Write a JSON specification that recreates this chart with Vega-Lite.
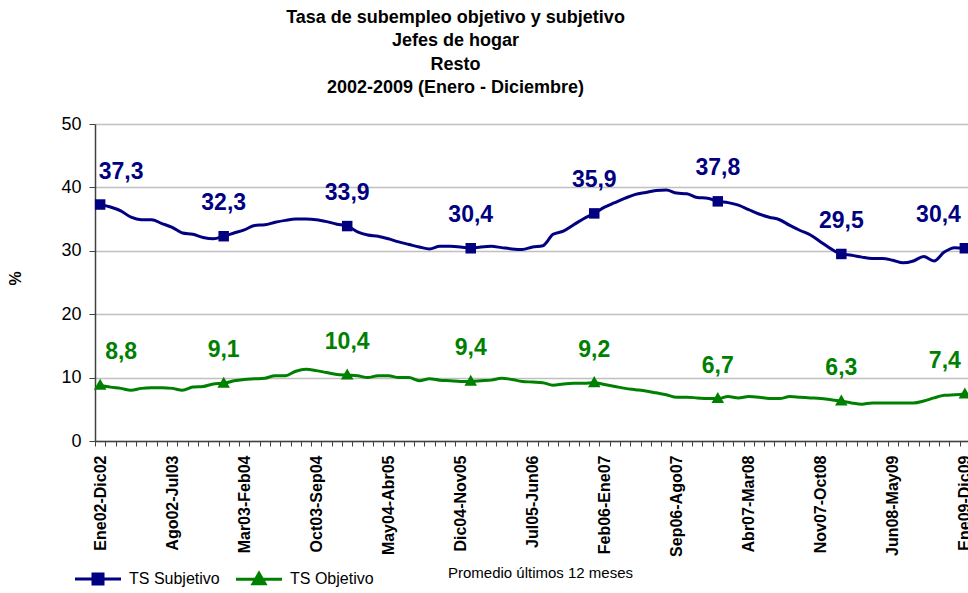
{
  "$schema": "https://vega.github.io/schema/vega-lite/v6.json",
  "width": 875,
  "height": 317,
  "autosize": {"type": "none"},
  "padding": {"left": 95, "top": 124, "right": 0, "bottom": 152},
  "background": "white",
  "config": {
    "view": {"stroke": null},
    "font": "Liberation Sans",
    "locale": {"number": {"decimal": ",", "thousands": ".", "grouping": [3], "currency": ["", " €"]}}
  },
  "title": {
    "text": ["Tasa de subempleo objetivo y subjetivo", "Jefes de hogar", "Resto", "2002-2009 (Enero - Diciembre)"],
    "font": "Liberation Sans",
    "fontSize": 18,
    "fontWeight": "bold",
    "lineHeight": 23.5,
    "color": "black",
    "anchor": "middle",
    "dx": -77,
    "offset": 18
  },
  "data": {
    "values": [
      {"periodo": "Ene02-Dic02", "TS Subjetivo": 37.3, "TS Objetivo": 8.8},
      {"periodo": "Feb02-Ene03", "TS Subjetivo": 36.9, "TS Objetivo": 8.5},
      {"periodo": "Mar02-Feb03", "TS Subjetivo": 36.3, "TS Objetivo": 8.3},
      {"periodo": "Abr02-Mar03", "TS Subjetivo": 35.3, "TS Objetivo": 8.0},
      {"periodo": "May02-Abr03", "TS Subjetivo": 34.9, "TS Objetivo": 8.3},
      {"periodo": "Jun02-May03", "TS Subjetivo": 34.9, "TS Objetivo": 8.4},
      {"periodo": "Jul02-Jun03", "TS Subjetivo": 34.3, "TS Objetivo": 8.4},
      {"periodo": "Ago02-Jul03", "TS Subjetivo": 33.7, "TS Objetivo": 8.3},
      {"periodo": "Sep02-Ago03", "TS Subjetivo": 32.8, "TS Objetivo": 8.0},
      {"periodo": "Oct02-Sep03", "TS Subjetivo": 32.6, "TS Objetivo": 8.5},
      {"periodo": "Nov02-Oct03", "TS Subjetivo": 32.1, "TS Objetivo": 8.6},
      {"periodo": "Dic02-Nov03", "TS Subjetivo": 31.9, "TS Objetivo": 9.0},
      {"periodo": "Ene03-Dic03", "TS Subjetivo": 32.3, "TS Objetivo": 9.1},
      {"periodo": "Feb03-Ene04", "TS Subjetivo": 32.8, "TS Objetivo": 9.5},
      {"periodo": "Mar03-Feb04", "TS Subjetivo": 33.3, "TS Objetivo": 9.7},
      {"periodo": "Abr03-Mar04", "TS Subjetivo": 34.0, "TS Objetivo": 9.8},
      {"periodo": "May03-Abr04", "TS Subjetivo": 34.1, "TS Objetivo": 9.9},
      {"periodo": "Jun03-May04", "TS Subjetivo": 34.5, "TS Objetivo": 10.3},
      {"periodo": "Jul03-Jun04", "TS Subjetivo": 34.8, "TS Objetivo": 10.3},
      {"periodo": "Ago03-Jul04", "TS Subjetivo": 35.0, "TS Objetivo": 11.0},
      {"periodo": "Sep03-Ago04", "TS Subjetivo": 35.0, "TS Objetivo": 11.3},
      {"periodo": "Oct03-Sep04", "TS Subjetivo": 34.9, "TS Objetivo": 11.1},
      {"periodo": "Nov03-Oct04", "TS Subjetivo": 34.6, "TS Objetivo": 10.8},
      {"periodo": "Dic03-Nov04", "TS Subjetivo": 34.2, "TS Objetivo": 10.5},
      {"periodo": "Ene04-Dic04", "TS Subjetivo": 33.9, "TS Objetivo": 10.4},
      {"periodo": "Feb04-Ene05", "TS Subjetivo": 33.0, "TS Objetivo": 10.3},
      {"periodo": "Mar04-Feb05", "TS Subjetivo": 32.5, "TS Objetivo": 10.0},
      {"periodo": "Abr04-Mar05", "TS Subjetivo": 32.3, "TS Objetivo": 10.3},
      {"periodo": "May04-Abr05", "TS Subjetivo": 31.9, "TS Objetivo": 10.3},
      {"periodo": "Jun04-May05", "TS Subjetivo": 31.4, "TS Objetivo": 10.0},
      {"periodo": "Jul04-Jun05", "TS Subjetivo": 31.0, "TS Objetivo": 10.0},
      {"periodo": "Ago04-Jul05", "TS Subjetivo": 30.6, "TS Objetivo": 9.5},
      {"periodo": "Sep04-Ago05", "TS Subjetivo": 30.3, "TS Objetivo": 9.8},
      {"periodo": "Oct04-Sep05", "TS Subjetivo": 30.7, "TS Objetivo": 9.6},
      {"periodo": "Nov04-Oct05", "TS Subjetivo": 30.7, "TS Objetivo": 9.5},
      {"periodo": "Dic04-Nov05", "TS Subjetivo": 30.6, "TS Objetivo": 9.4},
      {"periodo": "Ene05-Dic05", "TS Subjetivo": 30.4, "TS Objetivo": 9.4},
      {"periodo": "Feb05-Ene06", "TS Subjetivo": 30.6, "TS Objetivo": 9.5},
      {"periodo": "Mar05-Feb06", "TS Subjetivo": 30.7, "TS Objetivo": 9.6},
      {"periodo": "Abr05-Mar06", "TS Subjetivo": 30.5, "TS Objetivo": 9.9},
      {"periodo": "May05-Abr06", "TS Subjetivo": 30.3, "TS Objetivo": 9.7},
      {"periodo": "Jun05-May06", "TS Subjetivo": 30.2, "TS Objetivo": 9.4},
      {"periodo": "Jul05-Jun06", "TS Subjetivo": 30.6, "TS Objetivo": 9.3},
      {"periodo": "Ago05-Jul06", "TS Subjetivo": 30.8, "TS Objetivo": 9.2},
      {"periodo": "Sep05-Ago06", "TS Subjetivo": 32.6, "TS Objetivo": 8.8},
      {"periodo": "Oct05-Sep06", "TS Subjetivo": 33.1, "TS Objetivo": 9.0},
      {"periodo": "Nov05-Oct06", "TS Subjetivo": 34.1, "TS Objetivo": 9.1},
      {"periodo": "Dic05-Nov06", "TS Subjetivo": 35.1, "TS Objetivo": 9.1},
      {"periodo": "Ene06-Dic06", "TS Subjetivo": 35.9, "TS Objetivo": 9.2},
      {"periodo": "Feb06-Ene07", "TS Subjetivo": 36.9, "TS Objetivo": 8.9},
      {"periodo": "Mar06-Feb07", "TS Subjetivo": 37.6, "TS Objetivo": 8.6},
      {"periodo": "Abr06-Mar07", "TS Subjetivo": 38.3, "TS Objetivo": 8.3},
      {"periodo": "May06-Abr07", "TS Subjetivo": 38.9, "TS Objetivo": 8.1},
      {"periodo": "Jun06-May07", "TS Subjetivo": 39.2, "TS Objetivo": 7.9},
      {"periodo": "Jul06-Jun07", "TS Subjetivo": 39.5, "TS Objetivo": 7.6},
      {"periodo": "Ago06-Jul07", "TS Subjetivo": 39.6, "TS Objetivo": 7.3},
      {"periodo": "Sep06-Ago07", "TS Subjetivo": 39.1, "TS Objetivo": 6.9},
      {"periodo": "Oct06-Sep07", "TS Subjetivo": 39.0, "TS Objetivo": 6.9},
      {"periodo": "Nov06-Oct07", "TS Subjetivo": 38.4, "TS Objetivo": 6.8},
      {"periodo": "Dic06-Nov07", "TS Subjetivo": 38.3, "TS Objetivo": 6.7},
      {"periodo": "Ene07-Dic07", "TS Subjetivo": 37.8, "TS Objetivo": 6.7},
      {"periodo": "Feb07-Ene08", "TS Subjetivo": 37.6, "TS Objetivo": 7.0},
      {"periodo": "Mar07-Feb08", "TS Subjetivo": 37.2, "TS Objetivo": 6.8},
      {"periodo": "Abr07-Mar08", "TS Subjetivo": 36.5, "TS Objetivo": 7.0},
      {"periodo": "May07-Abr08", "TS Subjetivo": 35.8, "TS Objetivo": 6.9},
      {"periodo": "Jun07-May08", "TS Subjetivo": 35.3, "TS Objetivo": 6.7},
      {"periodo": "Jul07-Jun08", "TS Subjetivo": 34.9, "TS Objetivo": 6.7},
      {"periodo": "Ago07-Jul08", "TS Subjetivo": 34.0, "TS Objetivo": 7.0},
      {"periodo": "Sep07-Ago08", "TS Subjetivo": 33.2, "TS Objetivo": 6.9},
      {"periodo": "Oct07-Sep08", "TS Subjetivo": 32.5, "TS Objetivo": 6.8},
      {"periodo": "Nov07-Oct08", "TS Subjetivo": 31.4, "TS Objetivo": 6.7},
      {"periodo": "Dic07-Nov08", "TS Subjetivo": 30.3, "TS Objetivo": 6.5},
      {"periodo": "Ene08-Dic08", "TS Subjetivo": 29.5, "TS Objetivo": 6.3},
      {"periodo": "Feb08-Ene09", "TS Subjetivo": 29.3, "TS Objetivo": 6.0},
      {"periodo": "Mar08-Feb09", "TS Subjetivo": 29.0, "TS Objetivo": 5.8},
      {"periodo": "Abr08-Mar09", "TS Subjetivo": 28.8, "TS Objetivo": 6.0},
      {"periodo": "May08-Abr09", "TS Subjetivo": 28.8, "TS Objetivo": 6.0},
      {"periodo": "Jun08-May09", "TS Subjetivo": 28.5, "TS Objetivo": 6.0},
      {"periodo": "Jul08-Jun09", "TS Subjetivo": 28.1, "TS Objetivo": 6.0},
      {"periodo": "Ago08-Jul09", "TS Subjetivo": 28.4, "TS Objetivo": 6.0},
      {"periodo": "Sep08-Ago09", "TS Subjetivo": 29.1, "TS Objetivo": 6.3},
      {"periodo": "Oct08-Sep09", "TS Subjetivo": 28.4, "TS Objetivo": 6.8},
      {"periodo": "Nov08-Oct09", "TS Subjetivo": 29.8, "TS Objetivo": 7.2},
      {"periodo": "Dic08-Nov09", "TS Subjetivo": 30.5, "TS Objetivo": 7.3},
      {"periodo": "Ene09-Dic09", "TS Subjetivo": 30.4, "TS Objetivo": 7.4}
    ]
  },
  "transform": [{"fold": ["TS Subjetivo", "TS Objetivo"], "as": ["serie", "valor"]}],
  "encoding": {
    "x": {
      "field": "periodo",
      "type": "ordinal",
      "sort": null,
      "bandPosition": 0.5,
      "scale": {"type": "band", "paddingInner": 0, "paddingOuter": 0},
      "axis": {
        "title": "Promedio últimos 12 meses",
        "titleFont": "Liberation Sans",
        "titleFontSize": 15,
        "titleFontWeight": "normal",
        "titleColor": "black",
        "titleX": 445,
        "titleY": 131,
        "titleBaseline": "middle",
        "labelAngle": -90,
        "labelFont": "Liberation Sans",
        "labelFontSize": 16,
        "labelFontWeight": "bold",
        "labelColor": "black",
        "labelOverlap": false,
        "labelPadding": 9,
        "labelExpr": "indexof(['Ene02-Dic02','Ago02-Jul03','Mar03-Feb04','Oct03-Sep04','May04-Abr05','Dic04-Nov05','Jul05-Jun06','Feb06-Ene07','Sep06-Ago07','Abr07-Mar08','Nov07-Oct08','Jun08-May09','Ene09-Dic09'], datum.value) >= 0 ? datum.value : ''",
        "tickBand": "extent",
        "tickSize": 5,
        "tickColor": "#404040",
        "tickWidth": 1,
        "domainColor": "#404040",
        "domainWidth": 1.5,
        "grid": false
      }
    },
    "y": {
      "field": "valor",
      "type": "quantitative",
      "scale": {"domain": [0, 50]},
      "axis": {
        "values": [0, 10, 20, 30, 40, 50],
        "grid": true,
        "gridColor": "#c0c0c0",
        "gridWidth": 1.5,
        "domainColor": "#404040",
        "domainWidth": 1.5,
        "tickColor": "#404040",
        "tickSize": 6,
        "tickWidth": 1,
        "labelFont": "Liberation Sans",
        "labelFontSize": 18,
        "labelColor": "black",
        "labelPadding": 8,
        "title": "%",
        "titleFont": "Liberation Sans",
        "titleFontSize": 16,
        "titleFontWeight": "bold",
        "titleColor": "black",
        "titleX": -72,
        "titleY": 154
      }
    },
    "color": {
      "field": "serie",
      "type": "nominal",
      "scale": {"domain": ["TS Subjetivo", "TS Objetivo"], "range": ["#000080", "#008000"]},
      "legend": {
        "orient": "none",
        "legendX": -23,
        "legendY": 447,
        "direction": "horizontal",
        "title": null,
        "symbolSize": 100,
        "symbolStrokeWidth": 3,
        "symbolOpacity": 1,
        "labelFont": "Liberation Sans",
        "labelFontSize": 16,
        "labelColor": "black",
        "labelOffset": 41,
        "columnPadding": 10,
        "encode": {
          "symbols": {
            "update": {
              "shape": {"signal": "datum.value === 'TS Subjetivo' ? 'M-1,0H8.2M2.6,-1H4.6V1H2.6Z' : 'M-1,0H8.2M3.6,-1.2L4.8,0.9H2.4Z'"},
              "stroke": {"signal": "scale('color', datum.value)"},
              "fill": {"signal": "scale('color', datum.value)"},
              "strokeWidth": {"value": 3},
              "opacity": {"value": 1}
            }
          }
        }
      }
    }
  },
  "layer": [
    {
      "mark": {"type": "line", "strokeWidth": 3, "interpolate": "monotone"}
    },
    {
      "transform": [{"filter": "indexof(datum.periodo, 'Ene') == 0 && datum.serie == 'TS Subjetivo'"}],
      "mark": {"type": "point", "filled": true, "size": 110, "opacity": 1, "shape": "square"}
    },
    {
      "transform": [{"filter": "indexof(datum.periodo, 'Ene') == 0 && datum.serie == 'TS Objetivo'"}],
      "mark": {"type": "point", "filled": true, "size": 110, "opacity": 1, "shape": "M0,-1.25L1.2,0.85H-1.2Z"}
    },
    {
      "transform": [{"filter": "indexof(datum.periodo, 'Ene') == 0 && datum.periodo != 'Ene02-Dic02' && datum.periodo != 'Ene09-Dic09'"}],
      "mark": {"type": "text", "font": "Liberation Sans", "fontSize": 23, "fontWeight": "bold", "baseline": "middle", "align": "center", "dy": -33},
      "encoding": {
        "text": {"field": "valor", "type": "quantitative", "format": ".1f"}
      }
    },
    {
      "transform": [{"filter": "datum.periodo == 'Ene02-Dic02'"}],
      "mark": {"type": "text", "font": "Liberation Sans", "fontSize": 23, "fontWeight": "bold", "baseline": "middle", "align": "center", "dx": 21, "dy": -33},
      "encoding": {
        "text": {"field": "valor", "type": "quantitative", "format": ".1f"}
      }
    },
    {
      "transform": [{"filter": "datum.periodo == 'Ene09-Dic09'"}],
      "mark": {"type": "text", "font": "Liberation Sans", "fontSize": 23, "fontWeight": "bold", "baseline": "middle", "align": "right", "dx": -4, "dy": -33},
      "encoding": {
        "text": {"field": "valor", "type": "quantitative", "format": ".1f"}
      }
    }
  ]
}
